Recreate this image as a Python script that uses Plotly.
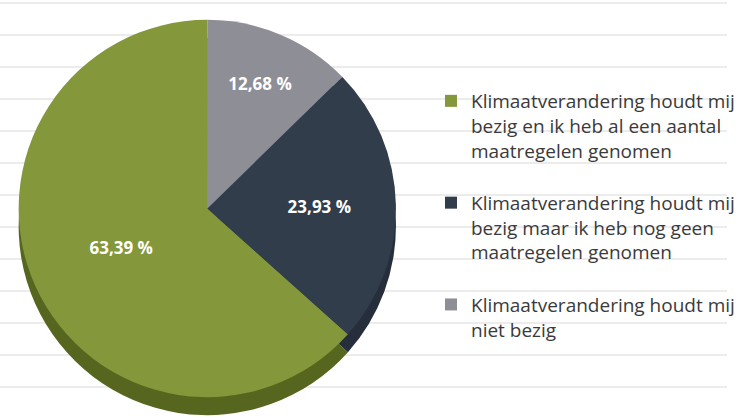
import plotly.graph_objects as go

# ---- data ----
categories = [
    "Klimaatverandering houdt mij<br>bezig en ik heb al een aantal<br>maatregelen genomen",
    "Klimaatverandering houdt mij<br>bezig maar ik heb nog geen<br>maatregelen genomen",
    "Klimaatverandering houdt mij<br>niet bezig",
]
values = [63.39, 23.93, 12.68]
value_labels = ["63,39 %", "23,93 %", "12,68 %"]

# ---- styles ----
colors = ["#84973a", "#323d4c", "#8e8e97"]
depth_colors = ["#57661f", "#262e3b", "#6a6a72"]
W, H = 740, 417
legend_labels = [c + "<br> " for c in categories]
# first slice (green) ends at 12 o'clock, going round counterclockwise
rotation = 360 * (values[1] + values[2]) / sum(values)

fig = go.Figure()

# background grid carrier
fig.add_trace(go.Scatter(x=[], y=[], showlegend=False, hoverinfo="skip"))

# depth (3D side) of the pie
fig.add_trace(go.Pie(
    labels=legend_labels, values=values, sort=False,
    direction="counterclockwise", rotation=rotation,
    marker=dict(colors=depth_colors, line=dict(width=0)),
    textinfo="none", hoverinfo="skip", showlegend=False,
    domain=dict(x=[19 / W, 403 / W], y=[1 - 417 / H, 1 - 36 / H]),
))

# top face of the pie
fig.add_trace(go.Pie(
    labels=legend_labels, values=values, sort=False,
    direction="counterclockwise", rotation=rotation,
    marker=dict(colors=colors, line=dict(width=0)),
    text=value_labels, textinfo="text", textposition="inside",
    insidetextorientation="horizontal",
    textfont=dict(family="Open Sans", size=17, color="white", weight="bold"),
    hovertemplate="%{text}<extra></extra>",
    domain=dict(x=[19 / W, 403 / W], y=[1 - 399 / H, 1 - 18 / H]),
))

fig.update_layout(
    width=W, height=H,
    margin=dict(l=0, r=0, t=0, b=0),
    paper_bgcolor="white", plot_bgcolor="white",
    xaxis=dict(visible=False, range=[0, 1], domain=[0, 1]),
    yaxis=dict(range=[H, 0], domain=[0, 1], tickmode="linear", tick0=3, dtick=32,
               showgrid=True, gridcolor="#ececec", gridwidth=2,
               showticklabels=False, zeroline=False, showline=False, ticks=""),
    showlegend=True,
    legend=dict(
        x=439 / W, xanchor="left", y=1 - 82 / H, yanchor="top",
        font=dict(family="Open Sans", size=19, color="#3a3a3a"),
        bgcolor="rgba(0,0,0,0)", valign="top", traceorder="normal",
    ),
)

fig.write_html("out.html")
